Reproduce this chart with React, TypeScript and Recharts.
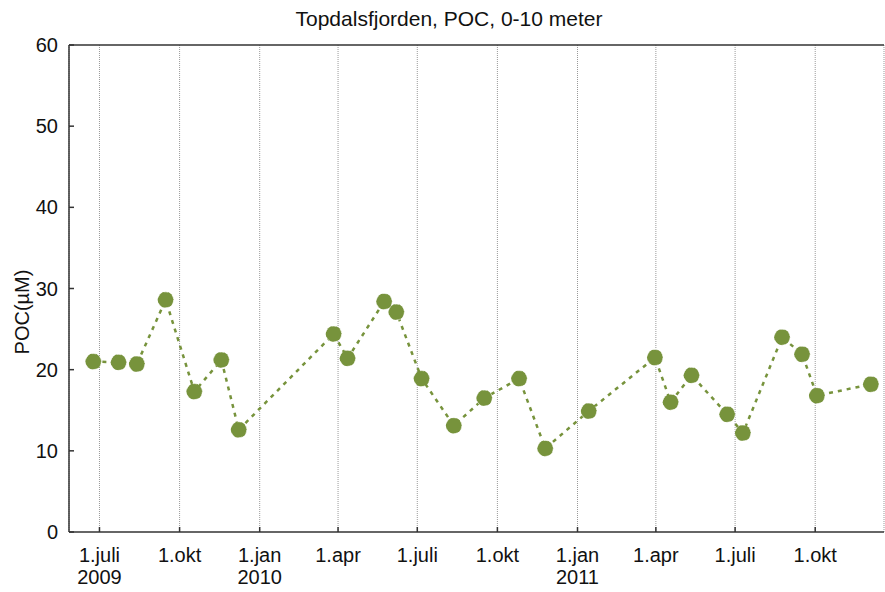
import { LineChart, Line, XAxis, YAxis, CartesianGrid } from 'recharts'

// sampling dates and POC values (µM), 0-10 m
const sampleDates = [
  '2009-06-24', '2009-07-23', '2009-08-13', '2009-09-15', '2009-10-18', '2009-11-18',
  '2009-12-08', '2010-03-27', '2010-04-12', '2010-05-24', '2010-06-07', '2010-07-06',
  '2010-08-12', '2010-09-16', '2010-10-26', '2010-11-25', '2011-01-14', '2011-03-31',
  '2011-04-18', '2011-05-12', '2011-06-22', '2011-07-10', '2011-08-24', '2011-09-16',
  '2011-10-03', '2011-12-04',
]
const pocValues = [
  21.0, 20.9, 20.7, 28.6, 17.3, 21.2,
  12.6, 24.4, 21.4, 28.4, 27.1, 18.9,
  13.1, 16.5, 18.9, 10.3, 14.9, 21.5,
  16.0, 19.3, 14.5, 12.2, 24.0, 21.9,
  16.8, 18.2,
]

const tickDates = [
  '2009-07-01', '2009-10-01', '2010-01-01', '2010-04-01', '2010-07-01',
  '2010-10-01', '2011-01-01', '2011-04-01', '2011-07-01', '2011-10-01',
]
const tickMonths = ['1.juli', '1.okt', '1.jan', '1.apr', '1.juli', '1.okt', '1.jan', '1.apr', '1.juli', '1.okt']
const tickYears = ['2009', '', '2010', '', '', '', '2011', '', '', '']
const yTicks = [0, 10, 20, 30, 40, 50, 60]

const DAY = 86400000
const toMs = (s: string) => Date.parse(s + 'T00:00:00Z')
const START = toMs('2009-05-27')
const END = toMs('2011-12-19')

const data = sampleDates.map((d, i) => ({ t: toMs(d), poc: pocValues[i] }))
const tickMs = tickDates.map(toMs)

// small ticks along the top edge every 30 days
const topTicks: number[] = []
for (let t = START + 30 * DAY; t < END; t += 30 * DAY) topTicks.push(t)

const FONT = '"Liberation Sans", Arial, sans-serif'
const GREEN = '#77933C'
const AXIS = '#333'

function DateTick(props: any) {
  const { x, y, payload } = props
  const i = tickMs.indexOf(payload.value)
  return (
    <text x={x} y={y} textAnchor="middle" fontSize={20} fill="#111" fontFamily={FONT}>
      <tspan x={x} dy="0.71em">{tickMonths[i]}</tspan>
      {tickYears[i] ? <tspan x={x} dy={22}>{tickYears[i]}</tspan> : null}
    </text>
  )
}

export default function App() {
  return (
    <div style={{ position: 'absolute', left: 0, top: 0 }}>
      <LineChart width={885} height={592} data={data} margin={{ top: 44, right: 1, bottom: 0, left: 0 }}>
        <CartesianGrid horizontal={false} stroke="#999" strokeDasharray="1 1" />
        <XAxis
          xAxisId="top"
          orientation="top"
          dataKey="t"
          type="number"
          domain={[START, END]}
          ticks={topTicks}
          interval={0}
          height={1}
          tick={false}
          tickSize={-5}
          axisLine={{ stroke: AXIS, strokeWidth: 1.5 }}
          tickLine={{ stroke: AXIS, strokeWidth: 1.5 }}
          allowDataOverflow
          label={() => (
            <text x={449} y={26} textAnchor="middle" fontSize={21} fill="#111" fontFamily={FONT}>
              Topdalsfjorden, POC, 0-10 meter
            </text>
          )}
        />
        <XAxis
          dataKey="t"
          type="number"
          domain={[START, END]}
          ticks={tickMs}
          interval={0}
          height={60}
          tickSize={-5}
          tickMargin={21}
          tick={<DateTick />}
          axisLine={{ stroke: AXIS, strokeWidth: 1.5 }}
          tickLine={{ stroke: AXIS, strokeWidth: 1.5 }}
          allowDataOverflow
        />
        <YAxis
          type="number"
          domain={[0, 60]}
          ticks={yTicks}
          interval={0}
          width={69}
          tickSize={-5}
          tickMargin={16}
          tick={{ fontSize: 20, fill: '#111', fontFamily: FONT }}
          axisLine={{ stroke: AXIS, strokeWidth: 1.5 }}
          tickLine={{ stroke: AXIS, strokeWidth: 1.5 }}
          label={() => (
            <text
              x={22}
              y={312}
              transform="rotate(-90 22 312)"
              textAnchor="middle"
              dominantBaseline="central"
              fontSize={20}
              fill="#111"
              fontFamily={FONT}
            >
              POC(µM)
            </text>
          )}
        />
        <Line
          dataKey="poc"
          type="linear"
          stroke={GREEN}
          strokeWidth={2.5}
          strokeDasharray="4 5"
          dot={{ r: 8, fill: GREEN, stroke: '#fff', strokeWidth: 0.6 }}
          activeDot={false}
          isAnimationActive={false}
        />
      </LineChart>
    </div>
  )
}
